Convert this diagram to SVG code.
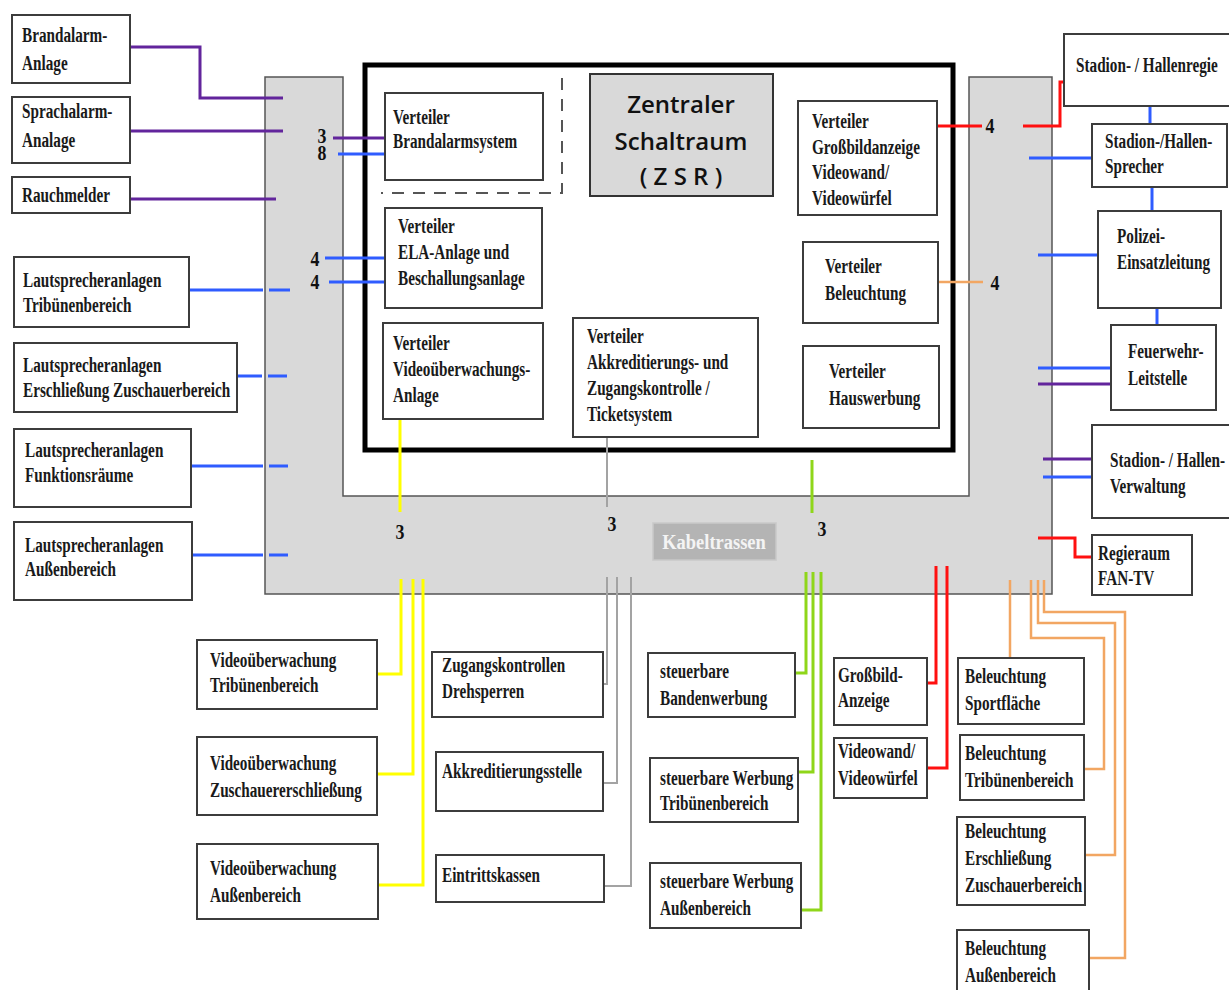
<svg xmlns="http://www.w3.org/2000/svg" width="1229" height="990" viewBox="0 0 1229 990">
  <style>
    .box { fill: #ffffff; stroke: #3c3c3c; stroke-width: 2; }
    .t { font-family: "Liberation Serif", "Times New Roman", serif; font-weight: bold; font-size: 21px; fill: #1a1a1a; }
    .num { font-family: "Liberation Serif", "Times New Roman", serif; font-weight: bold; font-size: 21px; fill: #111; text-anchor: middle; }
    .zsr { font-family: "Open Sans", "Liberation Sans", sans-serif; font-weight: 600; font-size: 24px; fill: #111; text-anchor: middle; }
    .c { fill: none; stroke-width: 3; stroke-linejoin: miter; }
    .purple { stroke: #62259c; }
    .blue { stroke: #2f5cff; }
    .red { stroke: #ff1010; }
    .yellow { stroke: #ffff00; }
    .green { stroke: #8fd61a; }
    .orange { stroke: #f2a662; stroke-width: 2.5; }
    .grey { stroke: #a3a3a3; stroke-width: 2; }
  </style>

  <rect width="1229" height="990" fill="#ffffff"/>

  <!-- cable tray (U-shaped) -->
  <g id="kabeltrassen">
    <path d="M265,77 H343 V496 H969 V77 H1052 V594 H265 Z" fill="#d9d9d9" stroke="#555555" stroke-width="1.5"/>
    <rect x="653" y="523" width="123" height="37" fill="#b4b4b4" stroke="#c9c9c9" stroke-width="1.5"/>
    <text class="t" style="fill:#f4f4f4" transform="matrix(0.88 0 0 1 714 549)" text-anchor="middle" font-size="22">Kabeltrassen</text>
  </g>

  <!-- central switch room frame -->
  <g id="zsr-rahmen">
    <rect x="365" y="65" width="588" height="385" fill="#ffffff" stroke="#000000" stroke-width="5"/>
    <path d="M562,78 V193 H381" fill="none" stroke="#555555" stroke-width="2" stroke-dasharray="12 9"/>
  </g>

  <!-- connectors -->
  <g id="connectors">
    <!-- fire alarm / voice alarm / smoke detectors -->
    <path class="c purple" d="M130,47 H200 V98 H283"/>
    <path class="c purple" d="M130,131 H283"/>
    <path class="c purple" d="M130,199 H276"/>
    <path class="c purple" d="M333,138 H385"/>
    <path class="c blue" d="M338,154 H385"/>
    <!-- ELA / loudspeakers -->
    <path class="c blue" d="M325,258 H385"/>
    <path class="c blue" d="M329,282 H385"/>
    <path class="c blue" d="M189,290 H263 M269,290 H290"/>
    <path class="c blue" d="M237,376 H262 M268,376 H287"/>
    <path class="c blue" d="M191,466 H263 M269,466 H288"/>
    <path class="c blue" d="M192,555 H263 M269,555 H288"/>
    <!-- video surveillance -->
    <path class="c yellow" d="M400,419 V512"/>
    <path class="c yellow" d="M401,579 V674 H378"/>
    <path class="c yellow" d="M413,579 V774 H378"/>
    <path class="c yellow" d="M423,579 V885 H378"/>
    <!-- access control / ticketing -->
    <path class="c grey" d="M607,437 V507"/>
    <path class="c grey" d="M607,577 V684 H603"/>
    <path class="c grey" d="M617,577 V783 H603"/>
    <path class="c grey" d="M631,577 V886 H604"/>
    <!-- advertising -->
    <path class="c green" d="M812,460 V513"/>
    <path class="c green" d="M806,572 V673 H795"/>
    <path class="c green" d="M813,572 V772 H798"/>
    <path class="c green" d="M821,572 V910 H801"/>
    <!-- big screen / video wall -->
    <path class="c red" d="M937,126 H982"/>
    <path class="c red" d="M1023,126 H1060 V82 H1064"/>
    <path class="c red" d="M936,566 V683 H927"/>
    <path class="c red" d="M947,566 V768 H927"/>
    <path class="c red" d="M1038,538 H1075 V557 H1092"/>
    <!-- lighting -->
    <path class="c orange" d="M938,282 H983"/>
    <path class="c orange" d="M1010,580 V658"/>
    <path class="c orange" d="M1031,580 V638 H1104 V769 H1084"/>
    <path class="c orange" d="M1038,580 V623 H1115 V855 H1085"/>
    <path class="c orange" d="M1044,580 V612 H1125 V958 H1089"/>
    <!-- control rooms on the right -->
    <path class="c blue" d="M1029,158 H1092"/>
    <path class="c blue" d="M1038,255 H1098"/>
    <path class="c blue" d="M1038,368 H1111"/>
    <path class="c purple" d="M1038,384 H1111"/>
    <path class="c purple" d="M1043,459 H1092"/>
    <path class="c blue" d="M1043,477 H1092"/>
    <path class="c blue" d="M1150,106 V124"/>
    <path class="c blue" d="M1152,187 V211"/>
    <path class="c blue" d="M1157,308 V325"/>
  </g>

  <!-- cable counts -->
  <g id="counts">
    <text class="num" transform="matrix(0.85 0 0 1 322 143)">3</text>
    <text class="num" transform="matrix(0.85 0 0 1 322 160)">8</text>
    <text class="num" transform="matrix(0.85 0 0 1 315 266)">4</text>
    <text class="num" transform="matrix(0.85 0 0 1 315 289)">4</text>
    <text class="num" transform="matrix(0.85 0 0 1 990 133)">4</text>
    <text class="num" transform="matrix(0.85 0 0 1 995 290)">4</text>
    <text class="num" transform="matrix(0.85 0 0 1 400 539)">3</text>
    <text class="num" transform="matrix(0.85 0 0 1 612 531)">3</text>
    <text class="num" transform="matrix(0.85 0 0 1 822 536)">3</text>
  </g>

  <!-- left side nodes -->
  <g id="brandalarm-anlage">
    <rect class="box" x="12" y="15" width="118" height="68"/>
    <text class="t" transform="matrix(0.725 0 0 1 22 42)"><tspan x="0">Brandalarm-</tspan><tspan x="0" dy="28">Anlage</tspan></text>
  </g>
  <g id="sprachalarm-anlage">
    <rect class="box" x="12" y="97" width="118" height="66"/>
    <text class="t" transform="matrix(0.725 0 0 1 22 118)"><tspan x="0">Sprachalarm-</tspan><tspan x="0" dy="29">Analage</tspan></text>
  </g>
  <g id="rauchmelder">
    <rect class="box" x="12" y="177" width="118" height="36"/>
    <text class="t" transform="matrix(0.725 0 0 1 22 202)">Rauchmelder</text>
  </g>
  <g id="ls-tribuene">
    <rect class="box" x="14" y="257" width="175" height="70"/>
    <text class="t" transform="matrix(0.725 0 0 1 23 287)"><tspan x="0">Lautsprecheranlagen</tspan><tspan x="0" dy="25">Tribünenbereich</tspan></text>
  </g>
  <g id="ls-erschliessung">
    <rect class="box" x="14" y="343" width="223" height="69"/>
    <text class="t" transform="matrix(0.725 0 0 1 23 372)"><tspan x="0">Lautsprecheranlagen</tspan><tspan x="0" dy="25">Erschließung Zuschauerbereich</tspan></text>
  </g>
  <g id="ls-funktionsraeume">
    <rect class="box" x="14" y="429" width="177" height="78"/>
    <text class="t" transform="matrix(0.725 0 0 1 25 457)"><tspan x="0">Lautsprecheranlagen</tspan><tspan x="0" dy="25">Funktionsräume</tspan></text>
  </g>
  <g id="ls-aussen">
    <rect class="box" x="14" y="522" width="178" height="78"/>
    <text class="t" transform="matrix(0.725 0 0 1 25 552)"><tspan x="0">Lautsprecheranlagen</tspan><tspan x="0" dy="24">Außenbereich</tspan></text>
  </g>

  <!-- distributors inside the central switch room -->
  <g id="v-brandalarm">
    <rect class="box" x="385" y="93" width="158" height="87"/>
    <text class="t" transform="matrix(0.725 0 0 1 393 124)"><tspan x="0">Verteiler</tspan><tspan x="0" dy="24">Brandalarmsystem</tspan></text>
  </g>
  <g id="v-ela">
    <rect class="box" x="385" y="208" width="157" height="100"/>
    <text class="t" transform="matrix(0.725 0 0 1 398 233)"><tspan x="0">Verteiler</tspan><tspan x="0" dy="26">ELA-Anlage und</tspan><tspan x="0" dy="26">Beschallungsanlage</tspan></text>
  </g>
  <g id="v-video">
    <rect class="box" x="383" y="323" width="160" height="96"/>
    <text class="t" transform="matrix(0.725 0 0 1 393 350)"><tspan x="0">Verteiler</tspan><tspan x="0" dy="26">Videoüberwachungs-</tspan><tspan x="0" dy="26">Anlage</tspan></text>
  </g>
  <g id="v-akkreditierung">
    <rect class="box" x="573" y="318" width="185" height="119"/>
    <text class="t" transform="matrix(0.725 0 0 1 587 343)"><tspan x="0">Verteiler</tspan><tspan x="0" dy="26">Akkreditierungs- und</tspan><tspan x="0" dy="26">Zugangskontrolle /</tspan><tspan x="0" dy="26">Ticketsystem</tspan></text>
  </g>
  <g id="zsr">
    <rect x="590" y="74" width="183" height="122" fill="#d9d9d9" stroke="#333333" stroke-width="2"/>
    <text class="zsr" x="681" y="113">Zentraler</text>
    <text class="zsr" x="681" y="150">Schaltraum</text>
    <text class="zsr" x="681" y="185">( Z S R )</text>
  </g>
  <g id="v-grossbild">
    <rect class="box" x="798" y="101" width="139" height="114"/>
    <text class="t" transform="matrix(0.725 0 0 1 812 128)"><tspan x="0">Verteiler</tspan><tspan x="0" dy="25.7">Großbildanzeige</tspan><tspan x="0" dy="25.7">Videowand/</tspan><tspan x="0" dy="25.7">Videowürfel</tspan></text>
  </g>
  <g id="v-beleuchtung">
    <rect class="box" x="803" y="242" width="135" height="81"/>
    <text class="t" transform="matrix(0.725 0 0 1 825 273)"><tspan x="0">Verteiler</tspan><tspan x="0" dy="27">Beleuchtung</tspan></text>
  </g>
  <g id="v-hauswerbung">
    <rect class="box" x="803" y="346" width="136" height="82"/>
    <text class="t" transform="matrix(0.725 0 0 1 829 378)"><tspan x="0">Verteiler</tspan><tspan x="0" dy="27">Hauswerbung</tspan></text>
  </g>

  <!-- right side nodes -->
  <g id="hallenregie">
    <rect class="box" x="1064" y="34" width="172" height="72"/>
    <text class="t" transform="matrix(0.725 0 0 1 1076 72)">Stadion- / Hallenregie</text>
  </g>
  <g id="sprecher">
    <rect class="box" x="1092" y="124" width="135" height="63"/>
    <text class="t" transform="matrix(0.725 0 0 1 1105 148)"><tspan x="0">Stadion-/Hallen-</tspan><tspan x="0" dy="25">Sprecher</tspan></text>
  </g>
  <g id="polizei">
    <rect class="box" x="1098" y="211" width="123" height="97"/>
    <text class="t" transform="matrix(0.725 0 0 1 1117 243)"><tspan x="0">Polizei-</tspan><tspan x="0" dy="26">Einsatzleitung</tspan></text>
  </g>
  <g id="feuerwehr">
    <rect class="box" x="1111" y="325" width="105" height="85"/>
    <text class="t" transform="matrix(0.725 0 0 1 1128 358)"><tspan x="0">Feuerwehr-</tspan><tspan x="0" dy="27">Leitstelle</tspan></text>
  </g>
  <g id="verwaltung">
    <rect class="box" x="1092" y="425" width="142" height="93"/>
    <text class="t" transform="matrix(0.725 0 0 1 1110 467)"><tspan x="0">Stadion- / Hallen-</tspan><tspan x="0" dy="26">Verwaltung</tspan></text>
  </g>
  <g id="fan-tv">
    <rect class="box" x="1092" y="535" width="100" height="60"/>
    <text class="t" transform="matrix(0.725 0 0 1 1098 560)"><tspan x="0">Regieraum</tspan><tspan x="0" dy="25">FAN-TV</tspan></text>
  </g>

  <!-- bottom nodes -->
  <g id="video-tribuene">
    <rect class="box" x="197" y="640" width="180" height="69"/>
    <text class="t" transform="matrix(0.725 0 0 1 210 667)"><tspan x="0">Videoüberwachung</tspan><tspan x="0" dy="25">Tribünenbereich</tspan></text>
  </g>
  <g id="video-zuschauer">
    <rect class="box" x="197" y="737" width="180" height="78"/>
    <text class="t" transform="matrix(0.725 0 0 1 210 770)"><tspan x="0">Videoüberwachung</tspan><tspan x="0" dy="27">Zuschauererschließung</tspan></text>
  </g>
  <g id="video-aussen">
    <rect class="box" x="197" y="844" width="181" height="75"/>
    <text class="t" transform="matrix(0.725 0 0 1 210 875)"><tspan x="0">Videoüberwachung</tspan><tspan x="0" dy="27">Außenbereich</tspan></text>
  </g>
  <g id="zugangskontrollen">
    <rect class="box" x="432" y="652" width="171" height="65"/>
    <text class="t" transform="matrix(0.725 0 0 1 442 672)"><tspan x="0">Zugangskontrollen</tspan><tspan x="0" dy="26">Drehsperren</tspan></text>
  </g>
  <g id="akkreditierungsstelle">
    <rect class="box" x="436" y="752" width="167" height="59"/>
    <text class="t" transform="matrix(0.725 0 0 1 442 778)">Akkreditierungsstelle</text>
  </g>
  <g id="eintrittskassen">
    <rect class="box" x="436" y="855" width="168" height="47"/>
    <text class="t" transform="matrix(0.725 0 0 1 442 882)">Eintrittskassen</text>
  </g>
  <g id="bandenwerbung">
    <rect class="box" x="648" y="653" width="147" height="64"/>
    <text class="t" transform="matrix(0.725 0 0 1 660 678)"><tspan x="0">steuerbare</tspan><tspan x="0" dy="27">Bandenwerbung</tspan></text>
  </g>
  <g id="werbung-tribuene">
    <rect class="box" x="650" y="758" width="148" height="64"/>
    <text class="t" transform="matrix(0.725 0 0 1 660 785)"><tspan x="0">steuerbare Werbung</tspan><tspan x="0" dy="25">Tribünenbereich</tspan></text>
  </g>
  <g id="werbung-aussen">
    <rect class="box" x="650" y="863" width="151" height="65"/>
    <text class="t" transform="matrix(0.725 0 0 1 660 888)"><tspan x="0">steuerbare Werbung</tspan><tspan x="0" dy="27">Außenbereich</tspan></text>
  </g>
  <g id="grossbild-anzeige">
    <rect class="box" x="834" y="658" width="93" height="67"/>
    <text class="t" transform="matrix(0.725 0 0 1 838 682)"><tspan x="0">Großbild-</tspan><tspan x="0" dy="25">Anzeige</tspan></text>
  </g>
  <g id="videowand">
    <rect class="box" x="834" y="738" width="93" height="60"/>
    <text class="t" transform="matrix(0.725 0 0 1 838 758)"><tspan x="0">Videowand/</tspan><tspan x="0" dy="27">Videowürfel</tspan></text>
  </g>
  <g id="beleuchtung-sport">
    <rect class="box" x="958" y="658" width="126" height="66"/>
    <text class="t" transform="matrix(0.725 0 0 1 965 683)"><tspan x="0">Beleuchtung</tspan><tspan x="0" dy="27">Sportfläche</tspan></text>
  </g>
  <g id="beleuchtung-tribuene">
    <rect class="box" x="960" y="735" width="124" height="65"/>
    <text class="t" transform="matrix(0.725 0 0 1 965 760)"><tspan x="0">Beleuchtung</tspan><tspan x="0" dy="27">Tribünenbereich</tspan></text>
  </g>
  <g id="beleuchtung-erschliessung">
    <rect class="box" x="957" y="817" width="128" height="88"/>
    <text class="t" transform="matrix(0.725 0 0 1 965 838)"><tspan x="0">Beleuchtung</tspan><tspan x="0" dy="27">Erschließung</tspan><tspan x="0" dy="27">Zuschauerbereich</tspan></text>
  </g>
  <g id="beleuchtung-aussen">
    <rect class="box" x="957" y="930" width="132" height="70"/>
    <text class="t" transform="matrix(0.725 0 0 1 965 955)"><tspan x="0">Beleuchtung</tspan><tspan x="0" dy="27">Außenbereich</tspan></text>
  </g>
</svg>
